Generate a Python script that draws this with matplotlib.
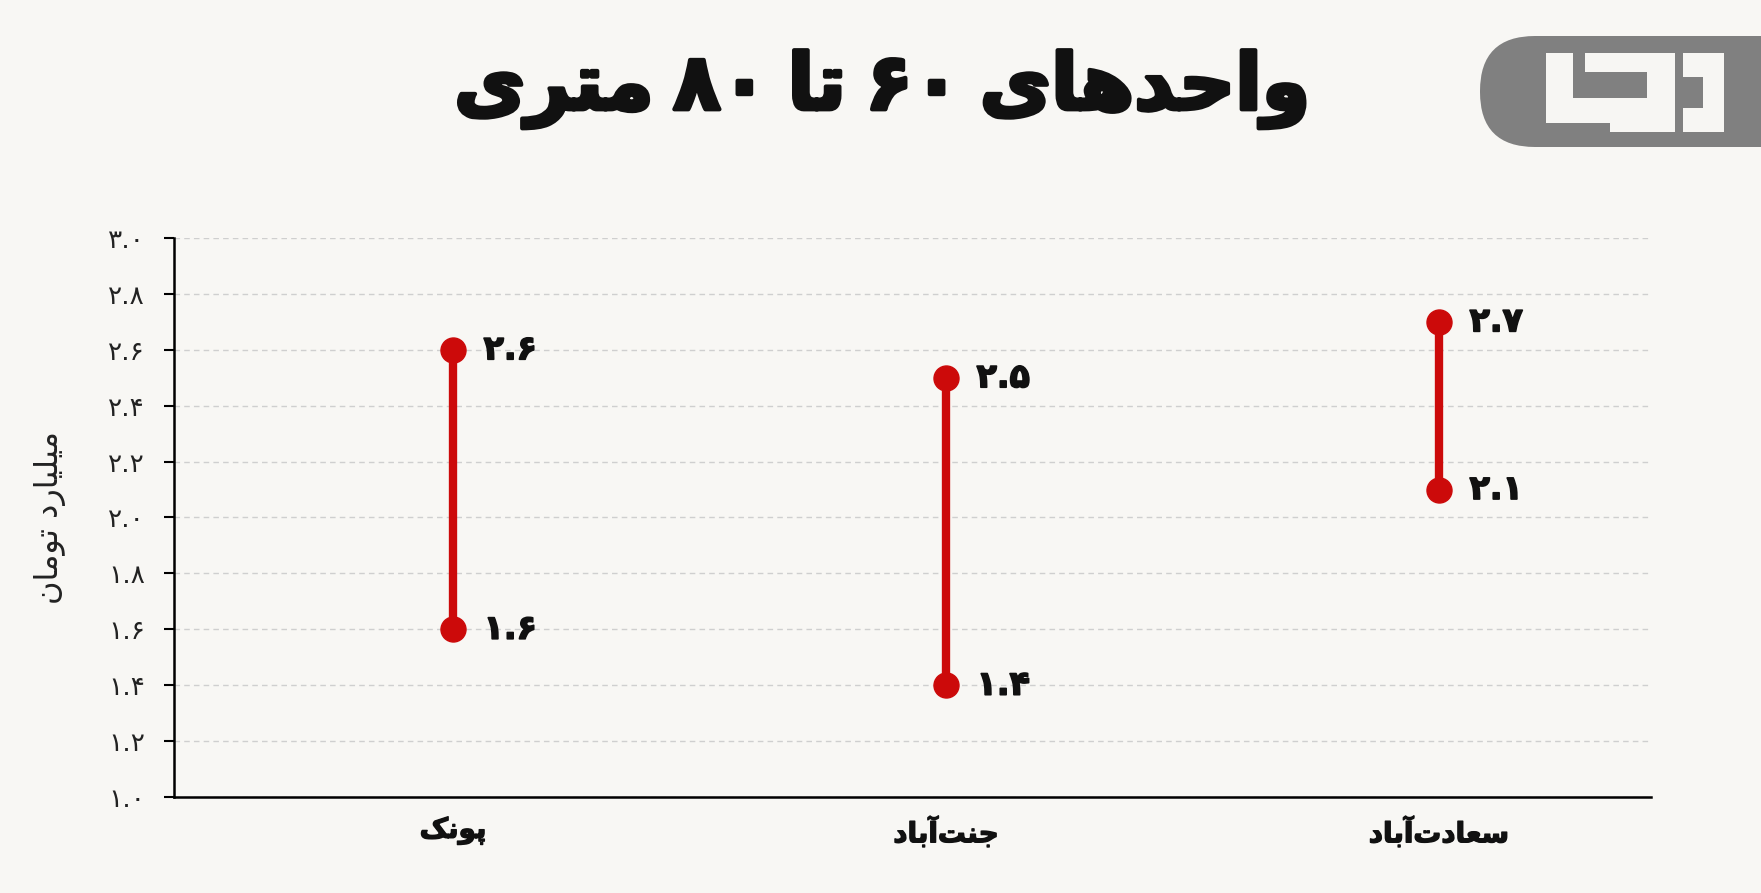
import matplotlib
matplotlib.use("Agg")
import matplotlib.pyplot as plt
import matplotlib.patheffects as pe
from matplotlib.patches import FancyBboxPatch, Rectangle, Polygon

# data
categories = ["پونک", "جنت‌آباد", "سعادت‌آباد"]
low_values = [1.6, 1.4, 2.1]
high_values = [2.6, 2.5, 2.7]
y_ticks = [1.0, 1.2, 1.4, 1.6, 1.8, 2.0, 2.2, 2.4, 2.6, 2.8, 3.0]
title = "واحدهای ۶۰ تا ۸۰ متری"
y_label = "میلیارد تومان"

BG = '#f8f7f4'
RED = '#cc0a0a'
INK = '#111111'

# matplotlib has no arabic shaping, so do it by hand with presentation forms
FORMS = {
    'ا': ('\uFE8D', '\uFE8E'),
    'آ': ('\uFE81', '\uFE82'),
    'ب': ('\uFE8F', '\uFE90', '\uFE91', '\uFE92'),
    'پ': ('\uFB56', '\uFB57', '\uFB58', '\uFB59'),
    'ت': ('\uFE95', '\uFE96', '\uFE97', '\uFE98'),
    'ج': ('\uFE9D', '\uFE9E', '\uFE9F', '\uFEA0'),
    'ح': ('\uFEA1', '\uFEA2', '\uFEA3', '\uFEA4'),
    'د': ('\uFEA9', '\uFEAA'),
    'ر': ('\uFEAD', '\uFEAE'),
    'س': ('\uFEB1', '\uFEB2', '\uFEB3', '\uFEB4'),
    'ع': ('\uFEC9', '\uFECA', '\uFECB', '\uFECC'),
    'ک': ('\uFB8E', '\uFB8F', '\uFB90', '\uFB91'),
    'ل': ('\uFEDD', '\uFEDE', '\uFEDF', '\uFEE0'),
    'م': ('\uFEE1', '\uFEE2', '\uFEE3', '\uFEE4'),
    'ن': ('\uFEE5', '\uFEE6', '\uFEE7', '\uFEE8'),
    'ه': ('\uFEE9', '\uFEEA', '\uFEEB', '\uFEEC'),
    'و': ('\uFEED', '\uFEEE'),
    'ی': ('\uFBFC', '\uFBFD', '\uFBFE', '\uFBFF'),
}
FA_DIGITS = '۰۱۲۳۴۵۶۷۸۹'


def shape_word(word):
    out = []
    for i, c in enumerate(word):
        if c not in FORMS:
            if c != '\u200c':
                out.append(c)
            continue
        prev = word[i - 1] if i > 0 else None
        nxt = word[i + 1] if i + 1 < len(word) else None
        f = FORMS[c]
        jp = prev in FORMS and len(FORMS[prev]) == 4
        jn = len(f) == 4 and nxt in FORMS
        if jp and jn:
            out.append(f[3])
        elif jp:
            out.append(f[1])
        elif jn:
            out.append(f[2])
        else:
            out.append(f[0])
    return ''.join(reversed(out))


def fa(text, sep=' '):
    words = text.split(' ')
    res = []
    for w in reversed(words):
        if all(ch in FA_DIGITS + '.' for ch in w):
            res.append(w)
        else:
            res.append(shape_word(w))
    return sep.join(res)


def fa_num(v, fmt='{:.1f}'):
    s = fmt.format(v)
    return ''.join(FA_DIGITS[int(ch)] if ch.isdigit() else ch for ch in s)


def heavy(w, color=INK):
    return [pe.withStroke(linewidth=w, foreground=color)]


plt.rcParams['font.family'] = ['DejaVu Sans']

fig = plt.figure(figsize=(17.61, 8.93), dpi=100, facecolor=BG)
ax = fig.add_axes([0.0988, 0.1075, 0.8387, 0.626])
ax.set_facecolor(BG)

x = list(range(len(categories)))
ax.vlines(x, low_values, high_values, color=RED, lw=6, zorder=3)
ax.plot(x, low_values, 'o', color=RED, ms=18, zorder=4)
ax.plot(x, high_values, 'o', color=RED, ms=18, zorder=4)

for xi, lo, hi in zip(x, low_values, high_values):
    for v in (lo, hi):
        ax.annotate(fa_num(v), (xi, v), xytext=(22, 0), textcoords='offset points',
                    va='center', ha='left', fontsize=24, fontweight='bold', color=INK,
                    path_effects=heavy(1.2))

ax.set_xlim(-0.566, 2.43)
ax.set_ylim(1.0, 3.0)
ax.set_yticks(y_ticks)
ax.set_yticklabels([fa_num(t) for t in y_ticks], fontsize=19, color='#222222')
ax.set_xticks(x)
ax.set_xticklabels([fa(c) for c in categories], fontsize=20, fontweight='bold', color=INK)
for t in ax.get_xticklabels():
    t.set_path_effects(heavy(1.0))
ax.tick_params(axis='y', length=7, width=1.5, pad=14)
ax.tick_params(axis='x', length=0, pad=14)
ax.yaxis.grid(True, linestyle=(0, (4, 3)), color='#cfcfcf', lw=1)
ax.set_axisbelow(True)
for s in ['top', 'right']:
    ax.spines[s].set_visible(False)
ax.spines['left'].set_linewidth(1.8)
ax.spines['bottom'].set_linewidth(1.8)
ax.set_ylabel(fa(y_label), fontsize=23, labelpad=30, color='#222222')

fig.text(0.501, 0.9, fa(title, sep='\u2005'), ha='center', va='center', fontsize=56,
         fontweight='bold', color=INK, path_effects=heavy(3.0))

# logo in pixel coordinates
lax = fig.add_axes([0, 0, 1, 1], facecolor='none')
lax.set_xlim(0, 1761)
lax.set_ylim(893, 0)
lax.axis('off')
grey = '#808080'
lax.add_patch(Rectangle((1536, 36), 225, 111, fc=grey, ec='none'))
lax.add_patch(FancyBboxPatch((1480, 36), 160, 111, boxstyle='round,pad=0,rounding_size=55',
                             fc=grey, ec='none'))
white = '#f7f6f3'
blocks = [
    (1546, 53, 27, 70),    # left bar
    (1546, 98, 101, 25),   # bottom of L
    (1585, 53, 90, 19),    # top bar
    (1647, 53, 28, 79),    # right bar
    (1610, 103, 65, 29),   # bottom of J
]
for bx, by, bw, bh in blocks:
    lax.add_patch(Rectangle((bx, by), bw, bh, fc=white, ec='none'))
lax.add_patch(Polygon([(1683, 53), (1724, 53), (1724, 132), (1683, 132), (1683, 108),
                       (1703, 108), (1703, 77), (1683, 77)], closed=True, fc=white, ec='none'))

fig.savefig('out.png', dpi=100, facecolor=BG)
